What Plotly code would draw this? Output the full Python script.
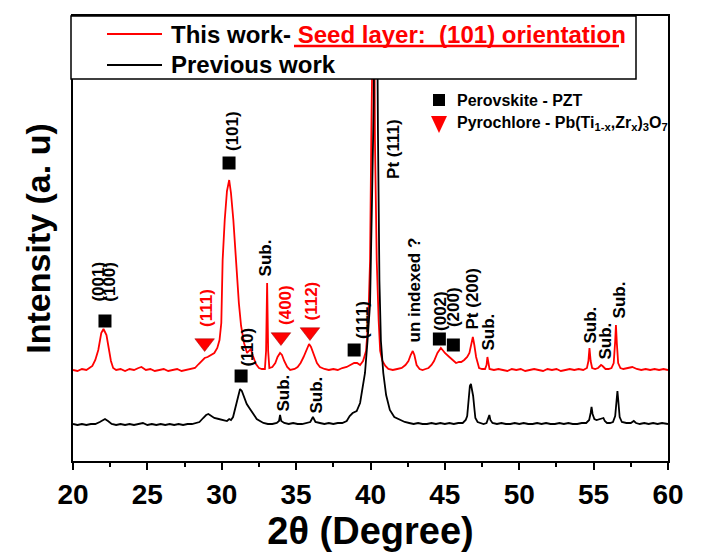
import plotly.graph_objects as go

# ---------------- data ----------------
red_x = [20.0, 20.3, 20.6, 20.9, 21.1, 21.3, 21.5, 21.7, 21.9, 22.05, 22.15, 22.25, 22.4, 22.55, 22.7, 22.9,
         23.2, 23.5, 23.8, 24.1, 24.4, 24.6, 24.9, 25.2, 25.5, 25.8, 26.1, 26.4, 26.7, 27.0, 27.3, 27.6,
         27.9, 28.2, 28.45, 28.65, 28.85, 29.05, 29.3, 29.5, 29.7, 29.85, 29.97, 30.06, 30.2, 30.35, 30.5,
         30.62, 30.78, 30.9, 31.0, 31.15, 31.3, 31.5, 31.7, 31.85, 31.95, 32.1, 32.3, 32.5, 32.7, 32.9,
         32.98, 33.05, 33.12, 33.2, 33.4, 33.6, 33.75, 33.92, 34.05, 34.2, 34.4, 34.6, 34.9, 35.1, 35.3,
         35.5, 35.7, 35.87, 36.0, 36.2, 36.4, 36.6, 36.9, 37.2, 37.5, 37.8, 38.1, 38.4, 38.7, 38.9, 39.1,
         39.3, 39.5, 39.7, 39.85, 39.97, 40.05, 40.1, 40.22, 40.3, 40.42, 40.55, 40.65, 40.8, 41.0, 41.2,
         41.5, 41.8, 42.1, 42.35, 42.55, 42.7, 42.84, 42.95, 43.1, 43.3, 43.5, 43.7, 43.9, 44.1, 44.27,
         44.5, 44.73, 44.9, 45.0, 45.3, 45.5, 45.75, 45.95, 46.1, 46.3, 46.5, 46.65, 46.78, 46.88, 46.98,
         47.1, 47.3, 47.5, 47.7, 47.8, 47.86, 47.93, 48.0, 48.3, 48.6, 48.9, 49.2, 49.5, 49.8, 50.1, 50.4,
         50.7, 51.0, 51.3, 51.6, 51.9, 52.2, 52.5, 52.8, 53.1, 53.4, 53.7, 54.0, 54.3, 54.55, 54.65, 54.72,
         54.8, 54.9, 55.1, 55.3, 55.5, 55.6, 55.8, 56.0, 56.2, 56.35, 56.45, 56.5, 56.56, 56.65, 56.8,
         57.0, 57.3, 57.6, 57.9, 58.2, 58.5, 58.8, 59.1, 59.4, 59.7, 60.0]
red_y = [91, 90, 92, 91, 93, 95, 101, 111, 128, 132, 129, 126, 113, 100, 93, 91,
         92, 90, 92, 91, 93, 94, 91, 92, 90, 91, 92, 90, 91, 92, 90, 91,
         92, 93, 97, 100, 103, 104, 106, 108, 113, 121, 138, 201, 241, 270, 281,
         268, 241, 212, 188, 158, 135, 118, 108, 110, 112, 105, 97, 93, 92, 92,
         110, 178, 110, 93, 94, 98, 104, 108, 106, 100, 94, 91, 92, 94, 98,
         104, 112, 117, 114, 105, 98, 94, 92, 91, 92, 91, 93, 94, 96, 98, 98,
         96, 100, 110, 140, 200, 320, 520, 520, 320, 200, 140, 110, 100, 95, 92,
         91, 92, 93, 96, 100, 106, 110, 106, 96, 92, 91, 92, 93, 96, 100,
         108, 113, 110, 108, 104, 101, 98, 99, 99, 101, 104, 108, 118, 124, 116,
         104, 93, 92, 92, 96, 104, 96, 92, 91, 92, 91, 90, 92, 91, 92, 90,
         91, 92, 91, 90, 92, 91, 92, 90, 91, 92, 91, 92, 91, 93, 100, 113,
         100, 93, 92, 93, 96, 95, 92, 92, 93, 98, 120, 136, 118, 98, 93,
         92, 93, 94, 92, 91, 92, 91, 92, 91, 92, 91]

black_x = [20.0, 20.3, 20.6, 20.9, 21.2, 21.5, 21.8, 22.0, 22.15, 22.35, 22.6, 22.9, 23.2, 23.5, 23.8,
           24.1, 24.4, 24.7, 25.0, 25.3, 25.6, 25.9, 26.2, 26.5, 26.8, 27.1, 27.4, 27.7, 28.0, 28.3,
           28.5, 28.75, 28.95, 29.1, 29.3, 29.5, 29.8, 30.1, 30.35, 30.5, 30.62, 30.76, 30.88, 31.0,
           31.12, 31.23, 31.35, 31.5, 31.68, 31.9, 32.1, 32.35, 32.57, 32.8, 33.1, 33.4, 33.7, 33.85,
           33.92, 34.0, 34.2, 34.5, 34.8, 35.1, 35.4, 35.7, 35.95, 36.13, 36.3, 36.6, 36.9, 37.2, 37.5,
           37.8, 38.1, 38.4, 38.6, 38.8, 39.07, 39.3, 39.5, 39.63, 39.8, 39.97, 40.1, 40.22, 40.27,
           40.42, 40.5, 40.6, 40.7, 40.86, 41.05, 41.3, 41.6, 41.98, 42.3, 42.6, 42.9, 43.2, 43.5, 43.8,
           44.1, 44.4, 44.7, 45.0, 45.3, 45.6, 45.9, 46.2, 46.4, 46.5, 46.6, 46.68, 46.75, 46.83, 46.9,
           47.0, 47.05, 47.2, 47.4, 47.6, 47.8, 47.92, 47.99, 48.06, 48.2, 48.5, 48.8, 49.1, 49.4, 49.7,
           50.0, 50.3, 50.6, 50.9, 51.2, 51.5, 51.8, 52.1, 52.4, 52.7, 53.0, 53.3, 53.6, 53.9, 54.2,
           54.5, 54.7, 54.8, 54.86, 54.93, 55.05, 55.2, 55.4, 55.55, 55.66, 55.75, 55.9, 56.1, 56.3,
           56.45, 56.55, 56.6, 56.66, 56.75, 56.9, 57.2, 57.5, 57.7, 57.85, 58.1, 58.4, 58.7, 59.0,
           59.3, 59.6, 60.0]
black_y = [37, 36, 37, 36, 37, 37, 39, 41, 42, 40, 37, 36, 37, 36, 37,
           36, 37, 38, 36, 37, 36, 37, 36, 37, 36, 37, 36, 37, 37, 38,
           39, 43, 46, 47, 45, 43, 42, 41, 40, 42, 41, 44, 52, 58,
           66, 72, 70, 64, 57, 52, 47, 42, 40, 38, 37, 37, 38, 40,
           46, 40, 38, 37, 38, 37, 37, 38, 39, 44, 39, 38, 37, 38, 37,
           38, 38, 40, 45, 48, 50, 58, 75, 88, 120, 157, 260, 360, 520,
           520, 330, 180, 120, 88, 66, 51, 44, 41, 39, 38, 37, 38, 37, 37,
           38, 37, 38, 37, 38, 37, 38, 38, 41, 45, 65, 75, 77, 72, 65,
           50, 43, 39, 38, 37, 38, 42, 46, 41, 38, 37, 38, 37, 37, 38,
           37, 38, 37, 37, 38, 37, 38, 37, 37, 38, 37, 38, 37, 37, 38,
           38, 41, 48, 54, 47, 42, 41, 42, 42, 43, 40, 38, 38, 39,
           45, 62, 70, 60, 44, 39, 38, 38, 40, 38, 37, 38, 37, 38,
           37, 38, 37]

# phase markers
perov_x = [22.15, 30.49, 31.3, 38.9, 44.63, 45.57]
perov_y = [140, 298, 85, 111, 122, 116]
pyro_x = [28.85, 33.98, 35.93]
pyro_y = [118, 124, 129]

# peak labels: text, x (deg), bottom y, colour
label_text = ["(001)", "(100)", "(111)", "(101)", "(110)", "Sub.", "(400)", "(112)", "Sub.", "Sub.",
              "(111)", "Pt (111)", "un indexed ?", "(002)", "(200)", "Pt (200)", "Sub.", "Sub.", "Sub.", "Sub."]
label_x = [21.65, 22.4, 28.94, 30.69, 31.70, 32.97, 34.25, 36.0, 34.12, 36.34,
           39.43, 41.51, 42.99, 44.67, 45.55, 46.89, 47.9, 54.76, 55.77, 56.77]
label_y = [158, 158, 133, 309, 93, 184, 135, 139, 48, 46,
           121, 281, 118, 129, 133, 131, 109, 116, 100, 142]
label_c = ["black", "black", "red", "black", "black", "black", "red", "red", "black", "black",
           "black", "black", "black", "black", "black", "black", "black", "black", "black", "black"]

x_ticks = [20, 25, 30, 35, 40, 45, 50, 55, 60]

RED = "#ff0000"
FONT = "Liberation Sans, Arial, sans-serif"

fig = go.Figure()
fig.add_trace(go.Scatter(x=red_x, y=red_y, mode="lines", line=dict(color=RED, width=1.8),
                         name="This work", showlegend=False))
fig.add_trace(go.Scatter(x=black_x, y=black_y, mode="lines", line=dict(color="black", width=1.8),
                         name="Previous work", showlegend=False))
fig.add_trace(go.Scatter(x=perov_x, y=perov_y, mode="markers",
                         marker=dict(symbol="square", size=13, color="black"),
                         name="Perovskite - PZT", showlegend=False))
fig.add_trace(go.Scatter(x=pyro_x, y=pyro_y, mode="markers",
                         marker=dict(symbol="triangle-down", size=17, color=RED,
                                     line=dict(color="#990000", width=0.5)),
                         name="Pyrochlore", showlegend=False))

annotations = []
for t, x, y, c in zip(label_text, label_x, label_y, label_c):
    annotations.append(dict(x=x, y=y, xref="x", yref="y", text=t, showarrow=False, textangle=-90,
                            xanchor="center", yanchor="bottom", borderpad=0,
                            font=dict(family=FONT, size=17, color=c, weight="bold")))

# plot area geometry (pixels) for paper-coordinate legend placement
L, R, T, B = 73, 668, 16, 461
W, H = R - L, B - T
def px(x):
    return (x - L) / W
def py(y):
    return (B - y) / H

shapes = []
# main legend box
shapes.append(dict(type="rect", xref="paper", yref="paper", x0=px(71), x1=px(636), y0=py(79), y1=py(16),
                   fillcolor="white", line=dict(color="black", width=1.5), layer="above"))
shapes.append(dict(type="line", xref="paper", yref="paper", x0=px(107), x1=px(162), y0=py(34), y1=py(34),
                   line=dict(color=RED, width=1.8)))
shapes.append(dict(type="line", xref="paper", yref="paper", x0=px(107), x1=px(162), y0=py(65), y1=py(65),
                   line=dict(color="black", width=1.8)))
# thick underline of the red legend text
shapes.append(dict(type="line", xref="paper", yref="paper", x0=px(294), x1=px(619), y0=py(46), y1=py(46),
                   line=dict(color=RED, width=2.5)))
# phase legend symbols
shapes.append(dict(type="rect", xref="paper", yref="paper", x0=px(433), x1=px(445), y0=py(106), y1=py(94),
                   fillcolor="black", line=dict(color="black", width=0)))
shapes.append(dict(type="path", xref="paper", yref="paper",
                   path=f"M {px(431)},{py(116)} L {px(447)},{py(116)} L {px(439)},{py(133)} Z",
                   fillcolor=RED, line=dict(color=RED, width=0)))

annotations.append(dict(x=px(169), y=py(34), xref="paper", yref="paper", showarrow=False,
                        xanchor="left", yanchor="middle",
                        text="This work- <span style='color:#ff0000'>Seed layer:&nbsp; (101) orientation</span>",
                        font=dict(family=FONT, size=24, color="black", weight="bold")))
annotations.append(dict(x=px(169), y=py(65), xref="paper", yref="paper", showarrow=False,
                        xanchor="left", yanchor="middle", text="Previous work",
                        font=dict(family=FONT, size=24, color="black", weight="bold")))
annotations.append(dict(x=px(455), y=py(100), xref="paper", yref="paper", showarrow=False,
                        xanchor="left", yanchor="middle", text="Perovskite - PZT",
                        font=dict(family=FONT, size=16, color="black", weight="bold")))
annotations.append(dict(x=px(455), y=py(124), xref="paper", yref="paper", showarrow=False,
                        xanchor="left", yanchor="middle",
                        text="Pyrochlore - Pb(Ti<sub>1-x</sub>,Zr<sub>x</sub>)<sub>3</sub>O<sub>7</sub>",
                        font=dict(family=FONT, size=16, color="black", weight="bold")))

fig.update_layout(
    width=706, height=555,
    margin=dict(l=L, r=706 - R, t=T, b=555 - B, pad=0),
    paper_bgcolor="white", plot_bgcolor="white",
    showlegend=False,
    shapes=shapes,
    annotations=annotations,
    xaxis=dict(range=[20, 60], tickvals=x_ticks, ticktext=[str(v) for v in x_ticks],
               ticks="outside", ticklen=7, tickwidth=2, tickcolor="black",
               minor=dict(dtick=2.5, tick0=20, ticks="outside", ticklen=4, tickwidth=2, tickcolor="black"),
               showline=True, linecolor="black", linewidth=2, mirror=True,
               showgrid=False, zeroline=False,
               tickfont=dict(family=FONT, size=28, color="black", weight="bold"),
               title=dict(text="2θ (Degree)", standoff=2,
                          font=dict(family=FONT, size=38, color="black", weight="bold"))),
    yaxis=dict(range=[0, 445], showticklabels=False, ticks="",
               showline=True, linecolor="black", linewidth=2, mirror=True,
               showgrid=False, zeroline=False,
               title=dict(text="Intensity (a. u)", standoff=10,
                          font=dict(family=FONT, size=34, color="black", weight="bold"))),
)

fig.write_html("out.html", config={"displayModeBar": False},
               post_script="document.body.style.margin='0';")
